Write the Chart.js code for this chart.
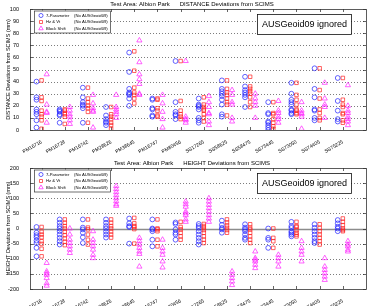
<!DOCTYPE html>
<html>
<head>
<meta charset="utf-8">
<script src="https://cdn.jsdelivr.net/npm/chart.js@4.4.1/dist/chart.umd.min.js"></script>
<style>
  html, body { margin: 0; padding: 0; background: #fff; }
  #wrap { position: relative; width: 371px; height: 306px; background: #fff; }
  canvas { position: absolute; left: 0; }
</style>
</head>
<body>
<div id="wrap">
  <canvas id="distChart" width="371" height="153" style="top:0"></canvas>
  <canvas id="hgtChart" width="371" height="153" style="top:153px"></canvas>
</div>
<script>
const stations = ['PM16716', 'PM16728', 'PM16742', 'PM28626', 'PM38645', 'PM16747', 'PM80456',
                  'SS17265', 'SS58625', 'SS58475', 'SS73445', 'SS73050', 'SS74405', 'SS75225'];

// DISTANCE deviations (mm), one list per station
const dist7Param = [
  [40, 27, 25, 17, 15, 13, 8, 2], [17, 16, 15, 13, 12, 6], [35, 27, 23, 21, 20, 18, 6],
  [19, 12, 9, 7, 6, 4], [64, 48, 34, 31, 30, 29, 26, 20], [26, 25, 18, 17, 12, 11],
  [57, 23, 15, 13, 12, 9], [26, 21, 20, 19, 17, 10, 8, 6], [41, 34, 32, 30, 28, 25, 21, 13, 11],
  [44, 36, 33, 31, 29, 27, 19], [23, 14, 13, 7, 6, 4, 2, 0], [39, 30, 25, 23, 21, 17, 16, 14, 13],
  [51, 34, 27, 17, 16, 10, 8], [43, 24, 16, 9, 7]
];
const distHzVt = [
  [41, 27, 24, 16, 13, 11, 8, 1], [17, 16, 14, 13, 11, 5], [35, 26, 23, 20, 18, 15, 6],
  [19, 13, 11, 9, 6, 4, 1], [65, 49, 35, 31, 29, 26, 22], [26, 25, 18, 16, 12, 11],
  [57, 24, 16, 13, 11, 9], [27, 21, 19, 17, 16, 13, 10, 7], [41, 34, 31, 29, 26, 23, 21, 12],
  [44, 36, 34, 32, 30, 27, 23, 19], [23, 14, 13, 9, 6, 3, 1], [39, 29, 25, 21, 17, 16, 14, 13],
  [51, 33, 26, 17, 14, 10, 8], [43, 25, 21, 19, 14, 13, 8, 6]
];
const distBlock = [
  [46, 21, 15, 14, 6], [19, 16, 13, 11, 8, 5], [29, 22, 18, 16, 15, 2],
  [29, 19, 17, 15, 13, 10], [74, 56, 46, 42, 38, 30, 29], [29, 22, 15, 9, 2],
  [57, 11, 9, 8, 6], [28, 23, 19, 14, 13, 7, 4], [33, 29, 23, 21, 10, 7],
  [30, 26, 23, 20, 10], [24, 16, 14, 11, 9, 6], [23, 16, 14, 13, 11, 1],
  [39, 26, 21, 19, 10], [37, 20, 16, 14, 11, 9, 7, 4]
];

// HEIGHT deviations (mm), one list per station
const hgt7Param = [
  [5, -14, -22, -29, -40, -48, -64, -92], [30, 19, 8, 0, -9, -20, -31, -42, -53], [30, 3, -3, -14, -29, -48],
  [30, 19, 8, 0, -10, -20, -30], [33, 17, 8, 5, -50], [30, 0, -3, -9, -37, -59],
  [20, 15, -3, -14, -20, -37], [15, 8, 2, -9, -20, -31, -42, -53], [26, 12, 2, -3, -14],
  [14, 3, -3, -9, -20, -31, -37], [0, -31, -37, -64], [22, 8, 2, -9, -14, -20, -26],
  [14, 2, -9, -20, -31, -42, -48], [28, 17, 6, 0, -9]
];
const hgtHzVt = [
  [5, -11, -20, -29, -42, -51, -67, -92], [30, 19, 8, 0, -11, -22, -33, -44, -55], [30, 3, -3, -20, -37, -53],
  [30, 19, 8, 0, -10, -20, -30], [35, 17, 8, 5, -2, -50], [30, 0, -3, -9, -37, -59],
  [22, 5, -3, -14, -26, -37], [15, 8, 2, -5, -14, -26, -37, -48], [30, 20, 10, 2, -5, -14],
  [14, 3, -3, -14, -26, -37, -48], [0, -31, -42, -64], [22, 8, 5, -5, -14, -20, -26],
  [14, 2, -9, -20, -31, -42, -53], [33, 22, 11, 0, -5, -9]
];
const hgtBlock = [
  [-114, -142, -148, -153, -164, -181, -189], [0, -20, -37, -48, -59, -70, -81], [-9, -37, -48, -59, -70, -87, -98],
  [140, 130, 120, 110, 100, 90, 80, 75], [-31, -42, -53, -64, -76, -84, -126], [-37, -64, -76, -87, -109, -129],
  [89, 80, 72, 56, 50, 44, 30, 22], [100, 89, 78, 67, 56, 44, 33, 22], [-142, -153, -164, -175, -187],
  [-76, -98, -103, -109, -120, -131], [-87, -98, -109, -126], [-42, -64, -76, -87, -109],
  [-98, -126, -137, -148, -159, -170], [-42, -53, -59, -70, -76]
];

const seriesNames = ['7-Parameter', 'Hz & Vt', 'Block Shift'];
const FONT = '"Liberation Sans", Arial, sans-serif';

const series = [
  { style: 'circle', color: '#2020ff', off: -0.22, r: 2.4 },
  { style: 'rect', color: '#ff2020', off: 0, r: 2.5 },
  { style: 'triangle', color: '#ff20ff', off: 0.22, r: 3.0 }
];

function makeDatasets(lists) {
  return lists.map((list, s) => {
    const pts = [];
    list.forEach((vals, i) => vals.forEach(v => pts.push({ x: i + 1 + series[s].off, y: v })));
    return {
      label: seriesNames[s],
      data: pts,
      pointStyle: series[s].style,
      pointRadius: series[s].r,
      pointBorderColor: series[s].color,
      pointBackgroundColor: 'rgba(0,0,0,0)',
      pointBorderWidth: 0.7,
      showLine: false
    };
  });
}

function framePlugin(cfg) {
  return {
    id: 'frame',
    beforeDatasetsDraw(chart) {
      const ctx = chart.ctx, a = chart.chartArea;
      const ys = chart.scales.y, xs = chart.scales.x;
      ctx.save();
      // grid lines
      ys.ticks.forEach(t => {
        if (t.value <= ys.min || t.value >= ys.max) return;
        const py = Math.round(ys.getPixelForValue(t.value)) + 0.5;
        ctx.beginPath();
        if (t.value === 0 && cfg.zeroLine) {
          ctx.setLineDash([]);
          ctx.strokeStyle = '#8c8c8c';
          ctx.lineWidth = 1.6;
        } else {
          ctx.setLineDash([1, 2]);
          ctx.strokeStyle = '#444';
          ctx.lineWidth = 0.7;
        }
        ctx.moveTo(a.left, py);
        ctx.lineTo(a.right, py);
        ctx.stroke();
      });
      ctx.setLineDash([]);
      ctx.strokeStyle = '#222';
      ctx.lineWidth = 0.7;
      // inner ticks
      stations.forEach((_, i) => {
        const px = Math.round(xs.getPixelForValue(i + 1)) + 0.5;
        ctx.beginPath();
        ctx.moveTo(px, a.bottom); ctx.lineTo(px, a.bottom - 3);
        ctx.moveTo(px, a.top); ctx.lineTo(px, a.top + 3);
        ctx.stroke();
      });
      ys.ticks.forEach(t => {
        const py = Math.round(ys.getPixelForValue(t.value)) + 0.5;
        ctx.beginPath();
        ctx.moveTo(a.left, py); ctx.lineTo(a.left + 3, py);
        ctx.moveTo(a.right, py); ctx.lineTo(a.right - 3, py);
        ctx.stroke();
      });
      ctx.strokeStyle = '#333';
      ctx.lineWidth = 0.8;
      ctx.strokeRect(Math.round(a.left) + 0.5, Math.round(a.top) + 0.5,
                     Math.round(a.right - a.left), Math.round(a.bottom - a.top));
      ctx.restore();
    },
    afterDraw(chart) {
      const ctx = chart.ctx, a = chart.chartArea;
      ctx.save();
      // title
      ctx.fillStyle = '#000';
      ctx.font = '6px ' + FONT;
      ctx.textAlign = 'center';
      ctx.textBaseline = 'middle';
      ctx.fillText(cfg.title, 192, a.top - 5);
      // y title
      ctx.save();
      ctx.translate(8, (a.top + a.bottom) / 2);
      ctx.rotate(-Math.PI / 2);
      ctx.font = '5.5px ' + FONT;
      ctx.fillText(cfg.yTitle, 0, 0);
      ctx.restore();
      // legend box
      const lx = a.left + 4, ly = a.top + 1.5, lw = 76, lh = 22;
      ctx.fillStyle = '#fff';
      ctx.fillRect(lx, ly, lw, lh);
      ctx.strokeStyle = '#333';
      ctx.lineWidth = 0.7;
      ctx.strokeRect(lx + 0.5, ly + 0.5, lw, lh);
      ctx.font = '4.2px ' + FONT;
      ctx.textAlign = 'left';
      seriesNames.forEach((name, s) => {
        const ry = ly + 5 + s * 6.5;
        ctx.strokeStyle = series[s].color;
        ctx.fillStyle = 'rgba(0,0,0,0)';
        Chart.helpers.drawPoint(ctx, {
          pointStyle: series[s].style, radius: series[s].r * 0.85,
          borderWidth: 0.7, rotation: 0
        }, lx + 7, ry);
        ctx.fillStyle = '#000';
        ctx.fillText(name, lx + 12, ry);
        ctx.fillText('(No AUSGeoid09)', lx + 40, ry);
      });
      ctx.restore();
      // annotation box
      ctx.save();
      const bx = 257, by = a.top + 5, bw = 94, bh = 20;
      ctx.fillStyle = '#fff';
      ctx.fillRect(bx, by, bw, bh);
      ctx.strokeStyle = '#111';
      ctx.lineWidth = 0.8;
      ctx.strokeRect(bx + 0.5, by + 0.5, bw, bh);
      ctx.fillStyle = '#000';
      ctx.font = '9px ' + FONT;
      ctx.textAlign = 'center';
      ctx.textBaseline = 'middle';
      ctx.fillText('AUSGeoid09 ignored', bx + bw / 2 + 0.5, by + bh / 2 + 1);
      ctx.restore();
    }
  };
}

function makeChart(id, lists, cfg) {
  const ctx = document.getElementById(id).getContext('2d');
  return new Chart(ctx, {
    type: 'scatter',
    data: { datasets: makeDatasets(lists) },
    options: {
      responsive: false,
      animation: false,
      events: [],
      layout: { padding: { top: cfg.top, right: 5, bottom: 0, left: 0 } },
      plugins: { legend: { display: false }, tooltip: { enabled: false } },
      scales: {
        x: {
          type: 'linear', min: 0.5, max: 15,
          grid: { display: false }, border: { display: false },
          afterBuildTicks: s => { s.ticks = stations.map((_, i) => ({ value: i + 1 })); },
          afterFit: s => { s.height = cfg.xh; },
          ticks: {
            autoSkip: false, minRotation: 30, maxRotation: 30, padding: 1,
            color: '#000', font: { size: 5, family: FONT },
            callback: v => stations[v - 1]
          }
        },
        y: {
          min: cfg.min, max: cfg.max,
          grid: { display: false }, border: { display: false },
          afterFit: s => { s.width = 30; },
          ticks: {
            stepSize: cfg.step, padding: 3,
            color: '#000', font: { size: 5.5, family: FONT }
          }
        }
      }
    },
    plugins: [framePlugin(cfg)]
  });
}

makeChart('distChart', [dist7Param, distHzVt, distBlock], {
  title: 'Test Area: Albion Park      DISTANCE Deviations from SCIMS',
  yTitle: 'DISTANCE Deviations from SCIMS (mm)',
  min: 0, max: 100, step: 10, top: 9, xh: 23, zeroLine: false
});
makeChart('hgtChart', [hgt7Param, hgtHzVt, hgtBlock], {
  title: 'Test Area: Albion Park      HEIGHT Deviations from SCIMS',
  yTitle: 'HEIGHT Deviations from SCIMS (mm)',
  min: -200, max: 200, step: 50, top: 15, xh: 17, zeroLine: true
});
</script>
</body>
</html>
